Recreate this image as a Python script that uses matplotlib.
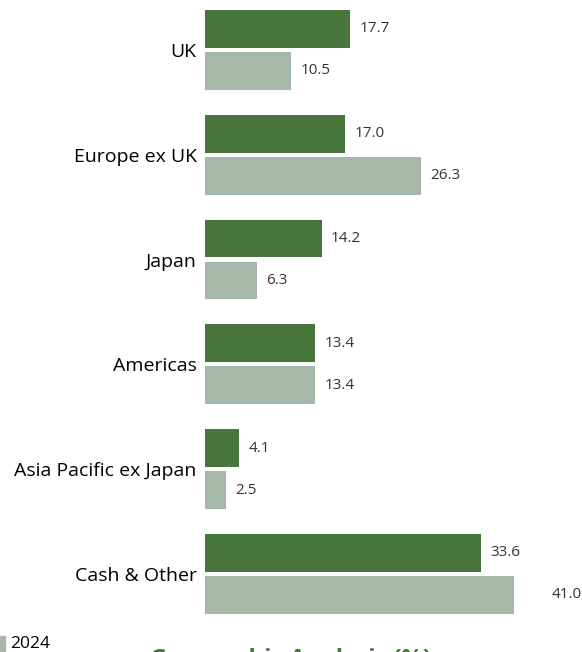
import numpy as np
import matplotlib
matplotlib.use('Agg')
from matplotlib import pyplot as plt
from matplotlib.patches import Rectangle

plt.rcParams['font.family'] = ['Open Sans', 'DejaVu Sans']

# data
regions = ['UK', 'Europe ex UK', 'Japan', 'Americas', 'Asia Pacific ex Japan', 'Cash & Other']
fund = [17.7, 17.0, 14.2, 13.4, 4.1, 33.6]
prior = [10.5, 26.3, 6.3, 13.4, 2.5, 41.0]

dark = '#47763a'
light = '#a6b8aa'

fig = plt.figure(figsize=(5.82, 6.52), dpi=100)
ax = fig.add_axes([205/582, 1 - 621/652, 309/582, 618.2/652])

y = np.arange(len(regions))
off = 0.2 ; h = 0.36
ax.barh(y - off, fund, height=h, color=dark)
ax.barh(y + off, prior, height=h, color=light)

ax.set_xlim(0, 37.6)
ax.set_ylim(len(regions) - 0.55, -0.45)

for i in range(len(regions)):
    ax.text(fund[i] + 1.15, y[i] - off, '%.1f' % fund[i], va='center', ha='left',
            fontsize=11, color='#333333', clip_on=False)
    ax.text(prior[i] + 1.15, y[i] + off, '%.1f' % prior[i], va='center', ha='left',
            fontsize=11, color='#333333', clip_on=False)

ax.set_yticks(y)
ax.set_yticklabels(regions, fontsize=14)
ax.tick_params(axis='y', length=0, pad=6)
ax.set_xticks([])
for s in ax.spines.values():
    s.set_visible(False)

# legend entry and title, mostly cut off at the bottom
fig.patches.append(Rectangle((0, 1 - 651/652), 5/582, 15/652, transform=fig.transFigure,
                             color=light))
fig.text(10/582, 1 - 644/652, '2024', fontsize=12.5, va='center', ha='left')
fig.text(290/582, 1 - 648/652, 'Geographic Analysis (%)', fontsize=17, fontweight='bold',
         color=dark, va='top', ha='center')

plt.savefig('out.png', dpi=100)
